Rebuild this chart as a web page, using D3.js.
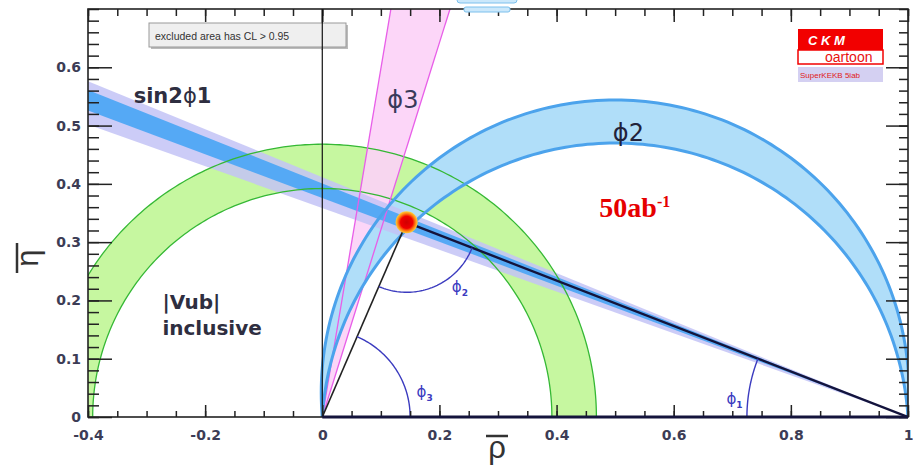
<!DOCTYPE html>
<html lang="en">
  <head>
    <meta charset="utf-8" />
    <script src="https://d3js.org/d3.v7.min.js"></script>
    <style>
      body { margin: 0; background: #fff; }
    </style>
  </head>
  <body>
    <script>
      // axis ranges and tick labels
      var rhoDomain = [-0.4, 1.0],
        etaDomain = [0, 0.7];
      var xTickVals = [-0.4, -0.2, 0, 0.2, 0.4, 0.6, 0.8, 1];
      var xTickText = ["-0.4", "-0.2", "0", "0.2", "0.4", "0.6", "0.8", "1"];
      var yTickVals = [0, 0.1, 0.2, 0.3, 0.4, 0.5, 0.6];
      var yTickText = ["0", "0.1", "0.2", "0.3", "0.4", "0.5", "0.6"];

      // fitted apex of the unitarity triangle (rho, eta)
      var apex = [0.144, 0.334];
      // |Vub| ring around (0,0): inner and outer radius
      var vubRadii = [0.392, 0.468];
      // phi3 wedge from (0,0), edge angles in degrees
      var phi3Deg = [72.7, 80.5];
      // phi2 band: peak eta of the two arcs through (0,0) and (1,0)
      var phi2Peaks = [0.47, 0.544];
      // sin2phi1 band: eta at rho = -0.4 of the edges, lines pivot on (1,0)
      var sinOuter = [0.502, 0.576];
      var sinInner = [0.526, 0.561];
      // radii of the little angle arcs (rho units)
      var arcRadii = { phi1: 0.275, phi2: 0.12, phi3: 0.15 };

      var width = 913,
        height = 469;
      var x = d3.scaleLinear().domain(rhoDomain).range([88, 908]);
      var y = d3.scaleLinear().domain(etaDomain).range([417, 9]);
      var PHI = "\u03d5";

      var svg = d3
        .select("body")
        .append("svg")
        .attr("width", width)
        .attr("height", height)
        .style("font-family", "'Liberation Sans', Arial, sans-serif");

      svg
        .append("clipPath")
        .attr("id", "plot")
        .append("rect")
        .attr("x", x(-0.4))
        .attr("y", y(0.7))
        .attr("width", x(1) - x(-0.4))
        .attr("height", y(0) - y(0.7));

      var line = d3
        .line()
        .x(function (d) { return x(d[0]); })
        .y(function (d) { return y(d[1]); });

      // points on a circle in data units, angle in radians
      function circlePts(cx, cy, r, a0, a1, n) {
        var pts = [];
        for (var i = 0; i <= n; i++) {
          var t = a0 + ((a1 - a0) * i) / n;
          pts.push([cx + r * Math.cos(t), cy + r * Math.sin(t)]);
        }
        return pts;
      }

      // arc through (0,0) and (1,0) reaching height h
      function phi2Arc(h, reverse) {
        var c = (h * h - 0.25) / (2 * h);
        var r = Math.sqrt(0.25 + c * c);
        var t0 = Math.atan2(-c, 0.5);
        var pts = circlePts(0.5, c, r, t0, Math.PI - t0, 160);
        return reverse ? pts.reverse() : pts;
      }

      function sinWedge(edges) {
        return [[1, 0], [-0.6, edges[0] * 1.6 / 1.4], [-0.6, edges[1] * 1.6 / 1.4]];
      }

      var bands = svg.append("g").attr("clip-path", "url(#plot)");

      // |Vub| ring
      var ringOut = circlePts(0, 0, vubRadii[1], 0, Math.PI, 200);
      var ringIn = circlePts(0, 0, vubRadii[0], Math.PI, 0, 200);
      bands
        .append("path")
        .attr("d", line(ringOut.concat(ringIn)) + "Z")
        .attr("fill", "#c6f7a0");

      // phi3 wedge
      var R = 2;
      var wedge = [
        [0, 0],
        [R * Math.cos((phi3Deg[0] * Math.PI) / 180), R * Math.sin((phi3Deg[0] * Math.PI) / 180)],
        [R * Math.cos((phi3Deg[1] * Math.PI) / 180), R * Math.sin((phi3Deg[1] * Math.PI) / 180)]
      ];
      bands
        .append("path")
        .attr("d", line(wedge) + "Z")
        .attr("fill", "#fcd2f7")
        .attr("fill-opacity", 0.9);

      // phi2 band
      bands
        .append("path")
        .attr("d", line(phi2Arc(phi2Peaks[1], false).concat(phi2Arc(phi2Peaks[0], true))) + "Z")
        .attr("fill", "#b0def9");

      // sin2phi1 band
      bands
        .append("path")
        .attr("d", line(sinWedge(sinOuter)) + "Z")
        .attr("fill", "#c3c3f6")
        .attr("fill-opacity", 0.85);
      bands
        .append("path")
        .attr("d", line(sinWedge(sinInner)) + "Z")
        .attr("fill", "#55a9f5");

      // edges
      [vubRadii[0], vubRadii[1]].forEach(function (r) {
        bands
          .append("path")
          .attr("d", line(circlePts(0, 0, r, 0, Math.PI, 200)))
          .attr("fill", "none")
          .attr("stroke", "#35b835")
          .attr("stroke-width", 1.3);
      });
      phi3Deg.forEach(function (a) {
        var t = (a * Math.PI) / 180;
        bands
          .append("path")
          .attr("d", line([[0, 0], [R * Math.cos(t), R * Math.sin(t)]]))
          .attr("stroke", "#e85ee8")
          .attr("stroke-width", 1.3);
      });
      phi2Peaks.forEach(function (h) {
        bands
          .append("path")
          .attr("d", line(phi2Arc(h, false)))
          .attr("fill", "none")
          .attr("stroke", "#4ca3ec")
          .attr("stroke-width", 3);
      });

      // vertical line at rho = 0
      bands
        .append("path")
        .attr("d", line([[0, 0], [0, 0.7]]))
        .attr("stroke", "#111")
        .attr("stroke-width", 1.2);

      // triangle sides
      bands
        .append("path")
        .attr("d", line([[0, 0], apex]))
        .attr("stroke", "#222")
        .attr("stroke-width", 1.6);
      bands
        .append("path")
        .attr("d", line([apex, [1, 0]]))
        .attr("stroke", "#14143c")
        .attr("stroke-width", 2.4);

      // angle arcs
      var angA = Math.atan2(apex[1], apex[0]);
      var angB = Math.atan2(apex[1], 1 - apex[0]);
      var arcCol = "#3b3bbf";
      bands
        .append("path")
        .attr("d", line(circlePts(0, 0, arcRadii.phi3, 0, angA, 60)))
        .attr("fill", "none")
        .attr("stroke", arcCol)
        .attr("stroke-width", 1.4);
      bands
        .append("path")
        .attr("d", line(circlePts(apex[0], apex[1], arcRadii.phi2, Math.PI + angA, 2 * Math.PI - angB, 60)))
        .attr("fill", "none")
        .attr("stroke", arcCol)
        .attr("stroke-width", 1.4);
      bands
        .append("path")
        .attr("d", line(circlePts(1, 0, arcRadii.phi1, Math.PI - angB, Math.PI, 60)))
        .attr("fill", "none")
        .attr("stroke", arcCol)
        .attr("stroke-width", 1.4);

      // fit point
      var grad = svg
        .append("defs")
        .append("radialGradient")
        .attr("id", "dot");
      grad.append("stop").attr("offset", "0%").attr("stop-color", "#d00000");
      grad.append("stop").attr("offset", "55%").attr("stop-color", "#f00000");
      grad.append("stop").attr("offset", "78%").attr("stop-color", "#ff7a10");
      grad.append("stop").attr("offset", "100%").attr("stop-color", "#ffd23a");
      svg
        .append("circle")
        .attr("cx", x(apex[0]))
        .attr("cy", y(apex[1]))
        .attr("r", 11)
        .attr("fill", "url(#dot)");

      // axes with inward ticks
      var tickCol = "#222";
      function styleAxis(g) {
        g.select(".domain").remove();
        g.selectAll("line").attr("stroke", tickCol).attr("stroke-width", 1.5);
      }
      var xMinor = x.ticks(28),
        yMinor = y.ticks(35);

      svg.append("g")
        .attr("transform", "translate(0," + y(0) + ")")
        .call(d3.axisBottom(x).tickValues(xMinor).tickSize(-6).tickFormat(""))
        .call(styleAxis);
      svg.append("g")
        .attr("transform", "translate(0," + y(0) + ")")
        .call(d3.axisBottom(x).tickValues(xTickVals).tickSize(-12).tickPadding(13)
          .tickFormat(function (d, i) { return xTickText[i]; }))
        .call(styleAxis)
        .selectAll("text")
        .style("font-family", "'DejaVu Sans', sans-serif")
        .style("font-weight", "bold")
        .style("font-size", "14px")
        .attr("fill", "#3c3c55");
      svg.append("g")
        .attr("transform", "translate(0," + y(0.7) + ")")
        .call(d3.axisTop(x).tickValues(xMinor).tickSize(-7).tickFormat(""))
        .call(styleAxis);
      svg.append("g")
        .attr("transform", "translate(0," + y(0.7) + ")")
        .call(d3.axisTop(x).tickValues(xTickVals).tickSize(-13).tickFormat(""))
        .call(styleAxis);

      svg.append("g")
        .attr("transform", "translate(" + x(-0.4) + ",0)")
        .call(d3.axisLeft(y).tickValues(yMinor).tickSize(-11).tickFormat(""))
        .call(styleAxis);
      svg.append("g")
        .attr("transform", "translate(" + x(-0.4) + ",0)")
        .call(d3.axisLeft(y).tickValues(yTickVals).tickSize(-24).tickPadding(7)
          .tickFormat(function (d, i) { return yTickText[i]; }))
        .call(styleAxis)
        .selectAll("text")
        .style("font-family", "'DejaVu Sans', sans-serif")
        .style("font-weight", "bold")
        .style("font-size", "14px")
        .attr("fill", "#3c3c55");
      svg.append("g")
        .attr("transform", "translate(" + x(1) + ",0)")
        .call(d3.axisRight(y).tickValues(yMinor).tickSize(-9).tickFormat(""))
        .call(styleAxis);
      svg.append("g")
        .attr("transform", "translate(" + x(1) + ",0)")
        .call(d3.axisRight(y).tickValues(yTickVals).tickSize(-22).tickFormat(""))
        .call(styleAxis);

      // frame
      svg
        .append("rect")
        .attr("x", x(-0.4))
        .attr("y", y(0.7))
        .attr("width", x(1) - x(-0.4))
        .attr("height", y(0) - y(0.7))
        .attr("fill", "none")
        .attr("stroke", "#222")
        .attr("stroke-width", 1.6);
      svg
        .append("path")
        .attr("d", line([[0, 0], [1, 0]]))
        .attr("stroke", "#14143c")
        .attr("stroke-width", 3);

      // cut-off tab at the top
      svg.append("rect").attr("x", 457).attr("y", -4).attr("width", 60).attr("height", 7).attr("rx", 3)
        .attr("fill", "#cbe8fb").attr("stroke", "#7cc0ec");
      svg.append("rect").attr("x", 464).attr("y", 7).attr("width", 46).attr("height", 5).attr("rx", 2)
        .attr("fill", "#cbe8fb").attr("stroke", "#7cc0ec");

      // CL box
      svg.append("rect").attr("x", 151).attr("y", 25).attr("width", 197).attr("height", 24).attr("fill", "#bbb");
      svg.append("rect").attr("x", 149).attr("y", 23).attr("width", 197).attr("height", 24)
        .attr("fill", "#efefef").attr("stroke", "#999").attr("stroke-width", 1);
      svg.append("path").attr("d", line([[0, 0.7], [0, 0.63]])).attr("stroke", "#111").attr("stroke-width", 1.2);
      svg.append("text").attr("x", 155).attr("y", 40).text("excluded area has CL > 0.95")
        .style("font-size", "10.5px").attr("fill", "#333");

      // CKMfitter logo
      svg.append("rect").attr("x", 798).attr("y", 29).attr("width", 85).attr("height", 21).attr("fill", "#f20000");
      svg.append("rect").attr("x", 798).attr("y", 50).attr("width", 85).attr("height", 14)
        .attr("fill", "#fff").attr("stroke", "#f20000").attr("stroke-width", 1.5);
      svg.append("rect").attr("x", 798).attr("y", 67).attr("width", 85).attr("height", 15).attr("fill", "#d4d0f2");
      svg.append("text").attr("x", 808).attr("y", 45).text("C K M")
        .style("font-size", "13px").style("font-weight", "bold").style("font-style", "italic").attr("fill", "#fff");
      svg.append("text").attr("x", 825).attr("y", 62).text("oartoon")
        .style("font-size", "14px").attr("fill", "#e81010");
      svg.append("text").attr("x", 800).attr("y", 78).text("SuperKEKB 5iab")
        .style("font-size", "8px").attr("fill", "#e02020");

      // band labels
      var labCol = "#2e2e40";
      var t1 = svg.append("text").attr("x", x(-0.322)).attr("y", y(0.539))
        .style("font-family", "'DejaVu Sans', sans-serif").style("font-size", "21px").style("font-weight", "bold").attr("fill", labCol);
      t1.append("tspan").text("sin2");
      t1.append("tspan").text(PHI).style("font-weight", "normal");
      t1.append("tspan").text("1");

      svg.append("text").attr("x", x(0.111)).attr("y", y(0.531)).text(PHI + "3")
        .style("font-family", "'DejaVu Sans', sans-serif").style("font-size", "24px").attr("fill", "#3a3a5a");
      svg.append("text").attr("x", x(0.496)).attr("y", y(0.474)).text(PHI + "2")
        .style("font-family", "'DejaVu Sans', sans-serif").style("font-size", "24px").attr("fill", "#22223a");

      svg.append("text").attr("x", x(-0.273)).attr("y", y(0.185)).text("|Vub|")
        .style("font-family", "'DejaVu Sans', sans-serif").style("font-size", "20px").style("font-weight", "bold").attr("fill", labCol);
      svg.append("text").attr("x", x(-0.273)).attr("y", y(0.141)).text("inclusive")
        .style("font-family", "'DejaVu Sans', sans-serif").style("font-size", "20px").style("font-weight", "bold").attr("fill", labCol);

      var lum = svg.append("text").attr("x", x(0.473)).attr("y", y(0.343))
        .style("font-family", "'Liberation Serif', serif").style("font-size", "28px").style("font-weight", "bold").attr("fill", "#e60000");
      lum.append("tspan").text("50ab");
      lum.append("tspan").text("-1").attr("dy", -10).style("font-size", "16px");

      // small angle labels
      function angleLabel(px, py, sub) {
        var t = svg.append("text").attr("x", x(px)).attr("y", y(py)).attr("fill", arcCol)
          .style("font-family", "'DejaVu Sans', sans-serif").style("font-size", "15px");
        t.append("tspan").text(PHI);
        t.append("tspan").text(sub).attr("dy", 4).style("font-size", "9px").style("font-weight", "bold");
      }
      angleLabel(0.161, 0.035, "3");
      angleLabel(0.221, 0.215, "2");
      angleLabel(0.69, 0.022, "1");

      // axis titles with bars
      var yl = svg.append("g").attr("transform", "translate(38,258) rotate(-90)");
      yl.append("text").attr("text-anchor", "middle").text("\u03b7").style("font-size", "31px").attr("fill", "#333");
      yl.append("line").attr("x1", -15).attr("x2", 15).attr("y1", -21).attr("y2", -21).attr("stroke", "#333").attr("stroke-width", 2.5);
      var xl = svg.append("g").attr("transform", "translate(497,458)");
      xl.append("text").attr("text-anchor", "middle").text("\u03c1").style("font-size", "31px").attr("fill", "#333");
      xl.append("line").attr("x1", -11).attr("x2", 11).attr("y1", -22).attr("y2", -22).attr("stroke", "#333").attr("stroke-width", 2.5);
    </script>
  </body>
</html>
